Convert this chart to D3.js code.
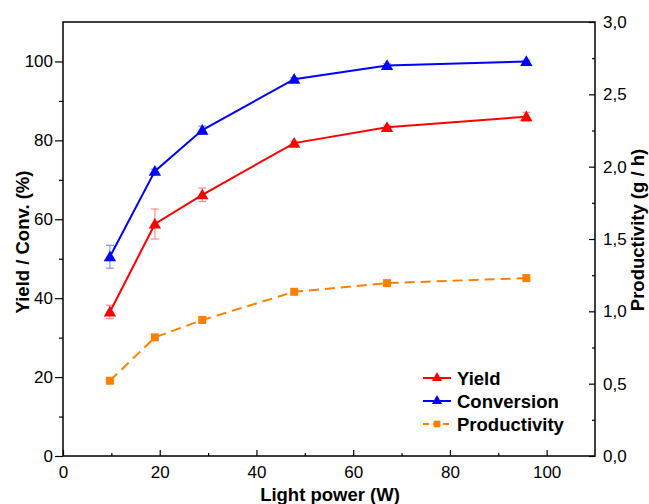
<!DOCTYPE html>
<html><head><meta charset="utf-8">
<script src="https://cdn.jsdelivr.net/npm/d3@7"></script>
<style>
html,body{margin:0;padding:0;background:#fff;}
svg{display:block;font-family:"Liberation Sans",Arial,sans-serif;}
</style></head>
<body>
<svg id="chart" width="649" height="504"></svg>
<script>
const power = [9.7, 19.0, 28.8, 47.8, 67.0, 95.8];
const yieldVals = [36.5, 58.8, 66.2, 79.3, 83.3, 86.0];
const yieldErr = [1.7, 3.8, 1.7, 0.5, 0.5, 1.1];
const convVals = [50.5, 72.2, 82.6, 95.5, 99.0, 100.0];
const convErr = [2.9, 0.5, 1.0, 0.4, 0.4, 0.3];
const prodVals = [0.52, 0.82, 0.94, 1.135, 1.195, 1.23];
const xTicks = [0, 20, 40, 60, 80, 100];
const yTicks = [0, 20, 40, 60, 80, 100];
const yRTicks = [0, 0.5, 1.0, 1.5, 2.0, 2.5, 3.0];
const legendLabels = ["Yield", "Conversion", "Productivity"];

const L = 63, R = 595, T = 22, B = 456;
const svg = d3.select("#chart");
const x = d3.scaleLinear().domain([0, 110]).range([L, R]);
const y = d3.scaleLinear().domain([0, 110]).range([B, T]);
const yR = d3.scaleLinear().domain([0, 3.0]).range([B, T]);

const red = "#ff0000", blue = "#0000ff", orange = "#ff8000";
const FONT = "Liberation Sans, Arial, sans-serif";
const TICKFS = 17, TITLEFS = 18.5;

// frame
svg.append("rect").attr("x", L).attr("y", T).attr("width", R - L).attr("height", B - T)
  .attr("fill", "none").attr("stroke", "#000").attr("stroke-width", 1.5);

// bottom axis (ticks inward)
const gx = svg.append("g").attr("transform", `translate(0,${B})`);
gx.call(d3.axisBottom(x).tickValues(d3.range(10, 110, 20)).tickSize(-3).tickFormat(""));
gx.call(g => g.selectAll(".domain").remove());
const gx2 = svg.append("g").attr("transform", `translate(0,${B})`);
gx2.call(d3.axisBottom(x).tickValues(xTicks).tickSize(-6).tickPadding(10).tickFormat(d3.format("d")));
gx2.select(".domain").remove();
[gx, gx2].forEach(g => g.selectAll("line").attr("stroke-width", 1.2));
gx2.selectAll("text").attr("font-size", TICKFS).attr("fill", "#000").attr("font-family", FONT);

// left axis (ticks outward)
const gy = svg.append("g").attr("transform", `translate(${L},0)`);
gy.call(d3.axisLeft(y).tickValues(d3.range(10, 110, 20)).tickSize(4).tickFormat(""));
gy.select(".domain").remove();
const gy2 = svg.append("g").attr("transform", `translate(${L},0)`);
gy2.call(d3.axisLeft(y).tickValues(yTicks).tickSize(8).tickPadding(2).tickFormat(d3.format("d")));
gy2.select(".domain").remove();
[gy, gy2].forEach(g => g.selectAll("line").attr("stroke-width", 1.2));
gy2.selectAll("text").attr("font-size", TICKFS).attr("fill", "#000").attr("font-family", FONT);

// right axis (ticks inward)
const gr = svg.append("g").attr("transform", `translate(${R},0)`);
gr.call(d3.axisRight(yR).tickValues(d3.range(0.25, 3.0, 0.5)).tickSize(-3).tickFormat(""));
gr.select(".domain").remove();
const gr2 = svg.append("g").attr("transform", `translate(${R},0)`);
gr2.call(d3.axisRight(yR).tickValues(yRTicks).tickSize(-6).tickPadding(8)
  .tickFormat(d => d3.format(".1f")(d).replace(".", ",")));
gr2.select(".domain").remove();
[gr, gr2].forEach(g => g.selectAll("line").attr("stroke-width", 1.2));
gr2.selectAll("text").attr("font-size", TICKFS).attr("fill", "#000").attr("font-family", FONT);

// axis titles
svg.append("text").attr("x", 330).attr("y", 501).attr("text-anchor", "middle")
  .attr("font-size", TITLEFS).attr("font-weight", "bold").text("Light power (W)");
svg.append("text").attr("transform", `translate(29,${242}) rotate(-90)`).attr("text-anchor", "middle")
  .attr("font-size", TITLEFS).attr("font-weight", "bold").text("Yield / Conv. (%)");
svg.append("text").attr("transform", `translate(644,${230}) rotate(-90)`).attr("text-anchor", "middle")
  .attr("font-size", TITLEFS).attr("font-weight", "bold").text("Productivity (g / h)");

const tri = d3.symbol().type(d3.symbolTriangle).size(66);
const sq = d3.symbol().type(d3.symbolSquare).size(64);

function errorBars(vals, errs, color) {
  const g = svg.append("g").attr("stroke", color).attr("stroke-width", 1.2).attr("opacity", 0.45);
  vals.forEach((v, i) => {
    const cx = x(power[i]), y1 = y(v - errs[i]), y2 = y(v + errs[i]);
    g.append("line").attr("x1", cx).attr("x2", cx).attr("y1", y1).attr("y2", y2);
    g.append("line").attr("x1", cx - 4).attr("x2", cx + 4).attr("y1", y1).attr("y2", y1);
    g.append("line").attr("x1", cx - 4).attr("x2", cx + 4).attr("y1", y2).attr("y2", y2);
  });
}

function series(vals, scale, color, symbol, dash) {
  const line = d3.line().x((d, i) => x(power[i])).y(d => scale(d));
  svg.append("path").datum(vals).attr("d", line).attr("fill", "none")
    .attr("stroke", color).attr("stroke-width", 2).attr("stroke-dasharray", dash || null);
  svg.append("g").selectAll("path").data(vals).join("path")
    .attr("transform", (d, i) => `translate(${x(power[i])},${scale(d) + (symbol === tri ? 1 : 0)})`)
    .attr("d", symbol).attr("fill", color);
}

series(prodVals, yR, orange, sq, "10,6");
series(yieldVals, y, red, tri);
series(convVals, y, blue, tri);
errorBars(yieldVals, yieldErr, red);
errorBars(convVals, convErr, blue);

// legend
const legColors = [red, blue, orange];
const legY = [378, 401, 424];
legendLabels.forEach((lab, i) => {
  const g = svg.append("g");
  g.append("line").attr("x1", 423).attr("x2", 451).attr("y1", legY[i]).attr("y2", legY[i])
    .attr("stroke", legColors[i]).attr("stroke-width", 2)
    .attr("stroke-dasharray", i === 2 ? "6,4" : null);
  g.append("path").attr("transform", `translate(437,${legY[i]})`)
    .attr("d", i < 2 ? d3.symbol().type(d3.symbolTriangle).size(45)() : d3.symbol().type(d3.symbolSquare).size(45)())
    .attr("fill", legColors[i]);
  g.append("text").attr("x", 457).attr("y", legY[i] + 6.5).attr("font-size", 18.5)
    .attr("font-weight", "bold").text(lab);
});
</script>
</body></html>
